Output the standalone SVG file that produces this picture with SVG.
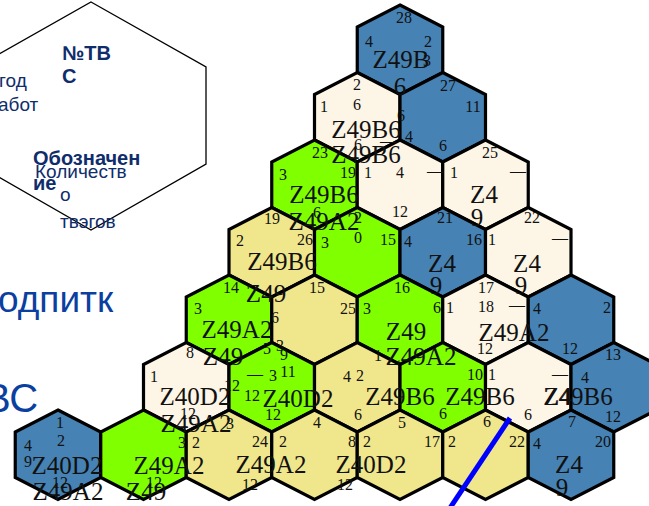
<svg xmlns="http://www.w3.org/2000/svg" xmlns:xlink="http://www.w3.org/1999/xlink" width="649" height="506" viewBox="0 0 649 506">
<style>
.hx{stroke:#000;stroke-width:3.2;stroke-linejoin:miter}
.b{fill:#4682B4}.c{fill:#FDF5E6}.g{fill:#7FFF00}.k{fill:#F0E68C}
text{font-family:"Liberation Serif","DejaVu Serif",serif;fill:#111;text-anchor:middle}
.s{font-size:16px}
.L{font-size:25px}
.n{font-family:"Liberation Sans","Noto Sans",sans-serif;fill:#0F2D6B;text-anchor:start;font-size:19px}
.nb{font-weight:bold;font-size:20px}
.bl{font-family:"Liberation Sans","Noto Sans",sans-serif;fill:#0B3FA0;text-anchor:start}
</style>
<defs>
<polygon id="hex" class="hx" points="0,0 42.75,22 42.75,67.5 0,89.5 -42.75,67.5 -42.75,22"/>
</defs>
<rect width="649" height="506" fill="#fff"/>
<g id="legend">
<polygon points="91,2 206,67 206,164 91,230 -24,164 -24,67" fill="#fff" stroke="#000" stroke-width="1.3"/>
<text class="n nb" x="62" y="60">№ТВ</text>
<text class="n nb" x="62" y="83">С</text>
<text class="n" x="-1" y="87">год</text>
<text class="n" x="-2" y="111">абот</text>
<text class="n nb" x="33" y="165">Обозначен</text>
<text class="n" x="35" y="178">Количеств</text>
<text class="n nb" x="33" y="190">ие</text>
<text class="n" x="60" y="201">о</text>
<text class="n" x="60" y="228">твэгов</text>
<text class="bl" x="-2" y="312" font-size="37">одпитк</text>
<text class="bl" x="-16" y="412" font-size="40">ВС</text>
</g>
<g id="hexes">
<g id="r0c0"><use xlink:href="#hex" x="400" y="5" class="b"/></g>
<g id="r1c0"><use xlink:href="#hex" x="357.25" y="72.5" class="c"/></g>
<g id="r1c1"><use xlink:href="#hex" x="442.75" y="72.5" class="b"/></g>
<g id="r2c0"><use xlink:href="#hex" x="314.5" y="140" class="g"/></g>
<g id="r2c1"><use xlink:href="#hex" x="400" y="140" class="c"/></g>
<g id="r2c2"><use xlink:href="#hex" x="485.5" y="140" class="c"/></g>
<g id="r3c0"><use xlink:href="#hex" x="271.75" y="207.5" class="k"/></g>
<g id="r3c1"><use xlink:href="#hex" x="357.25" y="207.5" class="g"/></g>
<g id="r3c2"><use xlink:href="#hex" x="442.75" y="207.5" class="b"/></g>
<g id="r3c3"><use xlink:href="#hex" x="528.25" y="207.5" class="c"/></g>
<g id="r4c0"><use xlink:href="#hex" x="229" y="275" class="g"/></g>
<g id="r4c1"><use xlink:href="#hex" x="314.5" y="275" class="k"/></g>
<g id="r4c2"><use xlink:href="#hex" x="400" y="275" class="g"/></g>
<g id="r4c3"><use xlink:href="#hex" x="485.5" y="275" class="c"/></g>
<g id="r4c4"><use xlink:href="#hex" x="571" y="275" class="b"/></g>
<g id="r5c0"><use xlink:href="#hex" x="186.25" y="342.5" class="c"/></g>
<g id="r5c1"><use xlink:href="#hex" x="271.75" y="342.5" class="g"/></g>
<g id="r5c2"><use xlink:href="#hex" x="357.25" y="342.5" class="k"/></g>
<g id="r5c3"><use xlink:href="#hex" x="442.75" y="342.5" class="g"/></g>
<g id="r5c4"><use xlink:href="#hex" x="528.25" y="342.5" class="c"/></g>
<g id="r5c5"><use xlink:href="#hex" x="613.75" y="342.5" class="b"/></g>
<g id="r6c0"><use xlink:href="#hex" x="58" y="410" class="b"/></g>
<g id="r6c1"><use xlink:href="#hex" x="143.5" y="410" class="g"/></g>
<g id="r6c2"><use xlink:href="#hex" x="229" y="410" class="k"/></g>
<g id="r6c3"><use xlink:href="#hex" x="314.5" y="410" class="k"/></g>
<g id="r6c4"><use xlink:href="#hex" x="400" y="410" class="k"/></g>
<g id="r6c5"><use xlink:href="#hex" x="485.5" y="410" class="k"/></g>
<g id="r6c6"><use xlink:href="#hex" x="571" y="410" class="b"/></g>
</g>
<g id="labels">
<g id="r0c0-text">
<text class="s" x="404" y="23">28</text><text class="s" x="369" y="47">4</text><text class="s" x="428" y="47">2</text>
<text class="L" x="401" y="68">Z49B</text><text class="s" x="427" y="66">3</text><text class="L" x="400" y="95">6</text></g>
<g id="r1c0-text">
<text class="s" x="357" y="90">2</text><text class="s" x="357" y="110">6</text><text class="s" x="324" y="112">1</text>
<text class="L" x="366" y="138">Z49B6</text><text class="s" x="401" y="121">6</text></g>
<g id="r1c1-text">
<text class="s" x="448" y="91">27</text><text class="s" x="473" y="112">11</text><text class="s" x="443" y="151">6</text></g>
<g id="r2c0-text">
<text class="s" x="320" y="158">23</text><text class="s" x="283" y="180">3</text><text class="s" x="348" y="178">19</text>
<text class="L" x="324" y="203">Z49B6</text><text class="s" x="317" y="218">6</text><text class="L" x="324" y="230">Z49A2</text></g>
<g id="r2c1-text">
<text class="s" x="358" y="150">6</text><text class="s" x="388" y="146">—</text><text class="s" x="409" y="142">4</text>
<text class="L" x="366" y="163">Z49B6</text>
<text class="s" x="368" y="178">1</text><text class="s" x="400" y="178">4</text><text class="s" x="435" y="176">—</text><text class="s" x="400" y="217">12</text></g>
<g id="r2c2-text">
<text class="s" x="490" y="158">25</text><text class="s" x="454" y="178">1</text><text class="s" x="518" y="176">—</text>
<text class="L" x="484" y="203">Z4</text><text class="L" x="477" y="226">9</text></g>
<g id="r3c0-text">
<text class="s" x="272" y="224">19</text><text class="s" x="240" y="246">2</text><text class="s" x="305" y="245">26</text><text class="s" x="325" y="248">3</text>
<text class="L" x="282" y="270">Z49B6</text></g>
<g id="r3c1-text">
<text class="s" x="358" y="223">2</text><text class="s" x="358" y="243">0</text><text class="s" x="388" y="245">15</text></g>
<g id="r3c2-text">
<text class="s" x="445" y="223">21</text><text class="s" x="408" y="247">4</text><text class="s" x="474" y="245">16</text>
<text class="L" x="442" y="272">Z4</text><text class="L" x="436" y="294">9</text></g>
<g id="r3c3-text">
<text class="s" x="532" y="223">22</text><text class="s" x="492" y="245">1</text><text class="s" x="560" y="243">—</text>
<text class="L" x="527" y="272">Z4</text><text class="L" x="521" y="294">9</text></g>
<g id="r4c0-text">
<text class="s" x="231" y="293">14</text><text class="s" x="198" y="314">3</text><text class="L" x="266" y="302">Z49</text><text class="s" x="275" y="323">6</text>
<text class="L" x="237" y="338">Z49A2</text><text class="s" x="190" y="358">8</text>
<text class="s" x="267" y="354">5</text><text class="s" x="280" y="351">3</text><text class="s" x="284" y="360">9</text></g>
<g id="r4c1-text">
<text class="s" x="317" y="293">15</text><text class="s" x="348" y="314">25</text></g>
<g id="r4c2-text">
<text class="s" x="402" y="293">16</text><text class="s" x="367" y="314">3</text><text class="s" x="437" y="313">6</text>
<text class="L" x="406" y="340">Z49</text><text class="s" x="378" y="361">1</text><text class="L" x="421" y="365">Z49A2</text></g>
<g id="r4c3-text">
<text class="s" x="486" y="293">17</text><text class="s" x="450" y="313">1</text><text class="s" x="486" y="312">18</text><text class="s" x="517" y="310">—</text>
<text class="L" x="514" y="341">Z49A2</text><text class="s" x="485" y="354">12</text></g>
<g id="r4c4-text">
<text class="s" x="537" y="314">4</text><text class="s" x="607" y="313">2</text><text class="s" x="570" y="354">12</text></g>
<g id="r5c0-text">
<text class="s" x="154" y="382">1</text><text class="L" x="223" y="365">Z49</text><text class="s" x="232" y="391">12</text>
<text class="L" x="195" y="405">Z40D2</text><text class="s" x="188" y="419">12</text><text class="L" x="196" y="432">Z49A2</text><text class="s" x="230" y="429">3</text></g>
<g id="r5c1-text">
<text class="s" x="255" y="379">—</text><text class="s" x="273" y="381">3</text><text class="s" x="288" y="377">11</text>
<text class="s" x="252" y="401">12</text><text class="L" x="298" y="407">Z40D2</text><text class="s" x="273" y="420">12</text></g>
<g id="r5c2-text">
<text class="s" x="347" y="382">4</text><text class="s" x="360" y="381">2</text>
<text class="L" x="400" y="405">Z49B6</text><text class="s" x="358" y="420">6</text></g>
<g id="r5c3-text">
<text class="s" x="475" y="380">10</text><text class="L" x="480" y="405">Z49B6</text><text class="s" x="443" y="419">6</text></g>
<g id="r5c4-text">
<text class="s" x="492" y="380">1</text><text class="s" x="560" y="379">—</text>
<text class="L" x="558" y="405">Z4</text><text class="s" x="528" y="420">6</text></g>
<g id="r5c5-text">
<text class="s" x="613" y="360">13</text><text class="s" x="585" y="383">4</text>
<text class="L" x="578" y="405">Z49B6</text><text class="s" x="613" y="422">12</text></g>
<g id="r6c0-text">
<text class="s" x="60" y="428">1</text><text class="s" x="61" y="446">2</text><text class="s" x="28" y="451">4</text>
<text class="s" x="28" y="467">9</text><text class="L" x="67" y="474">Z40D2</text><text class="s" x="60" y="488">12</text><text class="L" x="68" y="500">Z49A2</text></g>
<g id="r6c1-text">
<text class="s" x="182" y="448">3</text><text class="L" x="169" y="474">Z49A2</text><text class="s" x="154" y="488">12</text><text class="L" x="146" y="500">Z49</text></g>
<g id="r6c2-text">
<text class="s" x="196" y="448">2</text><text class="s" x="260" y="447">24</text>
<text class="L" x="271" y="473">Z49A2</text><text class="s" x="250" y="490">12</text></g>
<g id="r6c3-text">
<text class="s" x="317" y="428">4</text><text class="s" x="283" y="447">2</text><text class="s" x="352" y="447">8</text>
<text class="L" x="371" y="473">Z40D2</text><text class="s" x="345" y="490">12</text></g>
<g id="r6c4-text">
<text class="s" x="402" y="428">5</text><text class="s" x="367" y="447">2</text><text class="s" x="432" y="447">17</text></g>
<g id="r6c5-text">
<text class="s" x="487" y="427">6</text><text class="s" x="452" y="447">2</text><text class="s" x="517" y="447">22</text></g>
<g id="r6c6-text">
<text class="s" x="572" y="427">7</text><text class="s" x="537" y="449">4</text><text class="s" x="603" y="447">20</text>
<text class="L" x="569" y="473">Z4</text><text class="L" x="562" y="496">9</text></g>
</g>
<g id="connectors">
<line x1="510" y1="418" x2="450" y2="508" stroke="#0000FF" stroke-width="5"/>
</g>
</svg>
